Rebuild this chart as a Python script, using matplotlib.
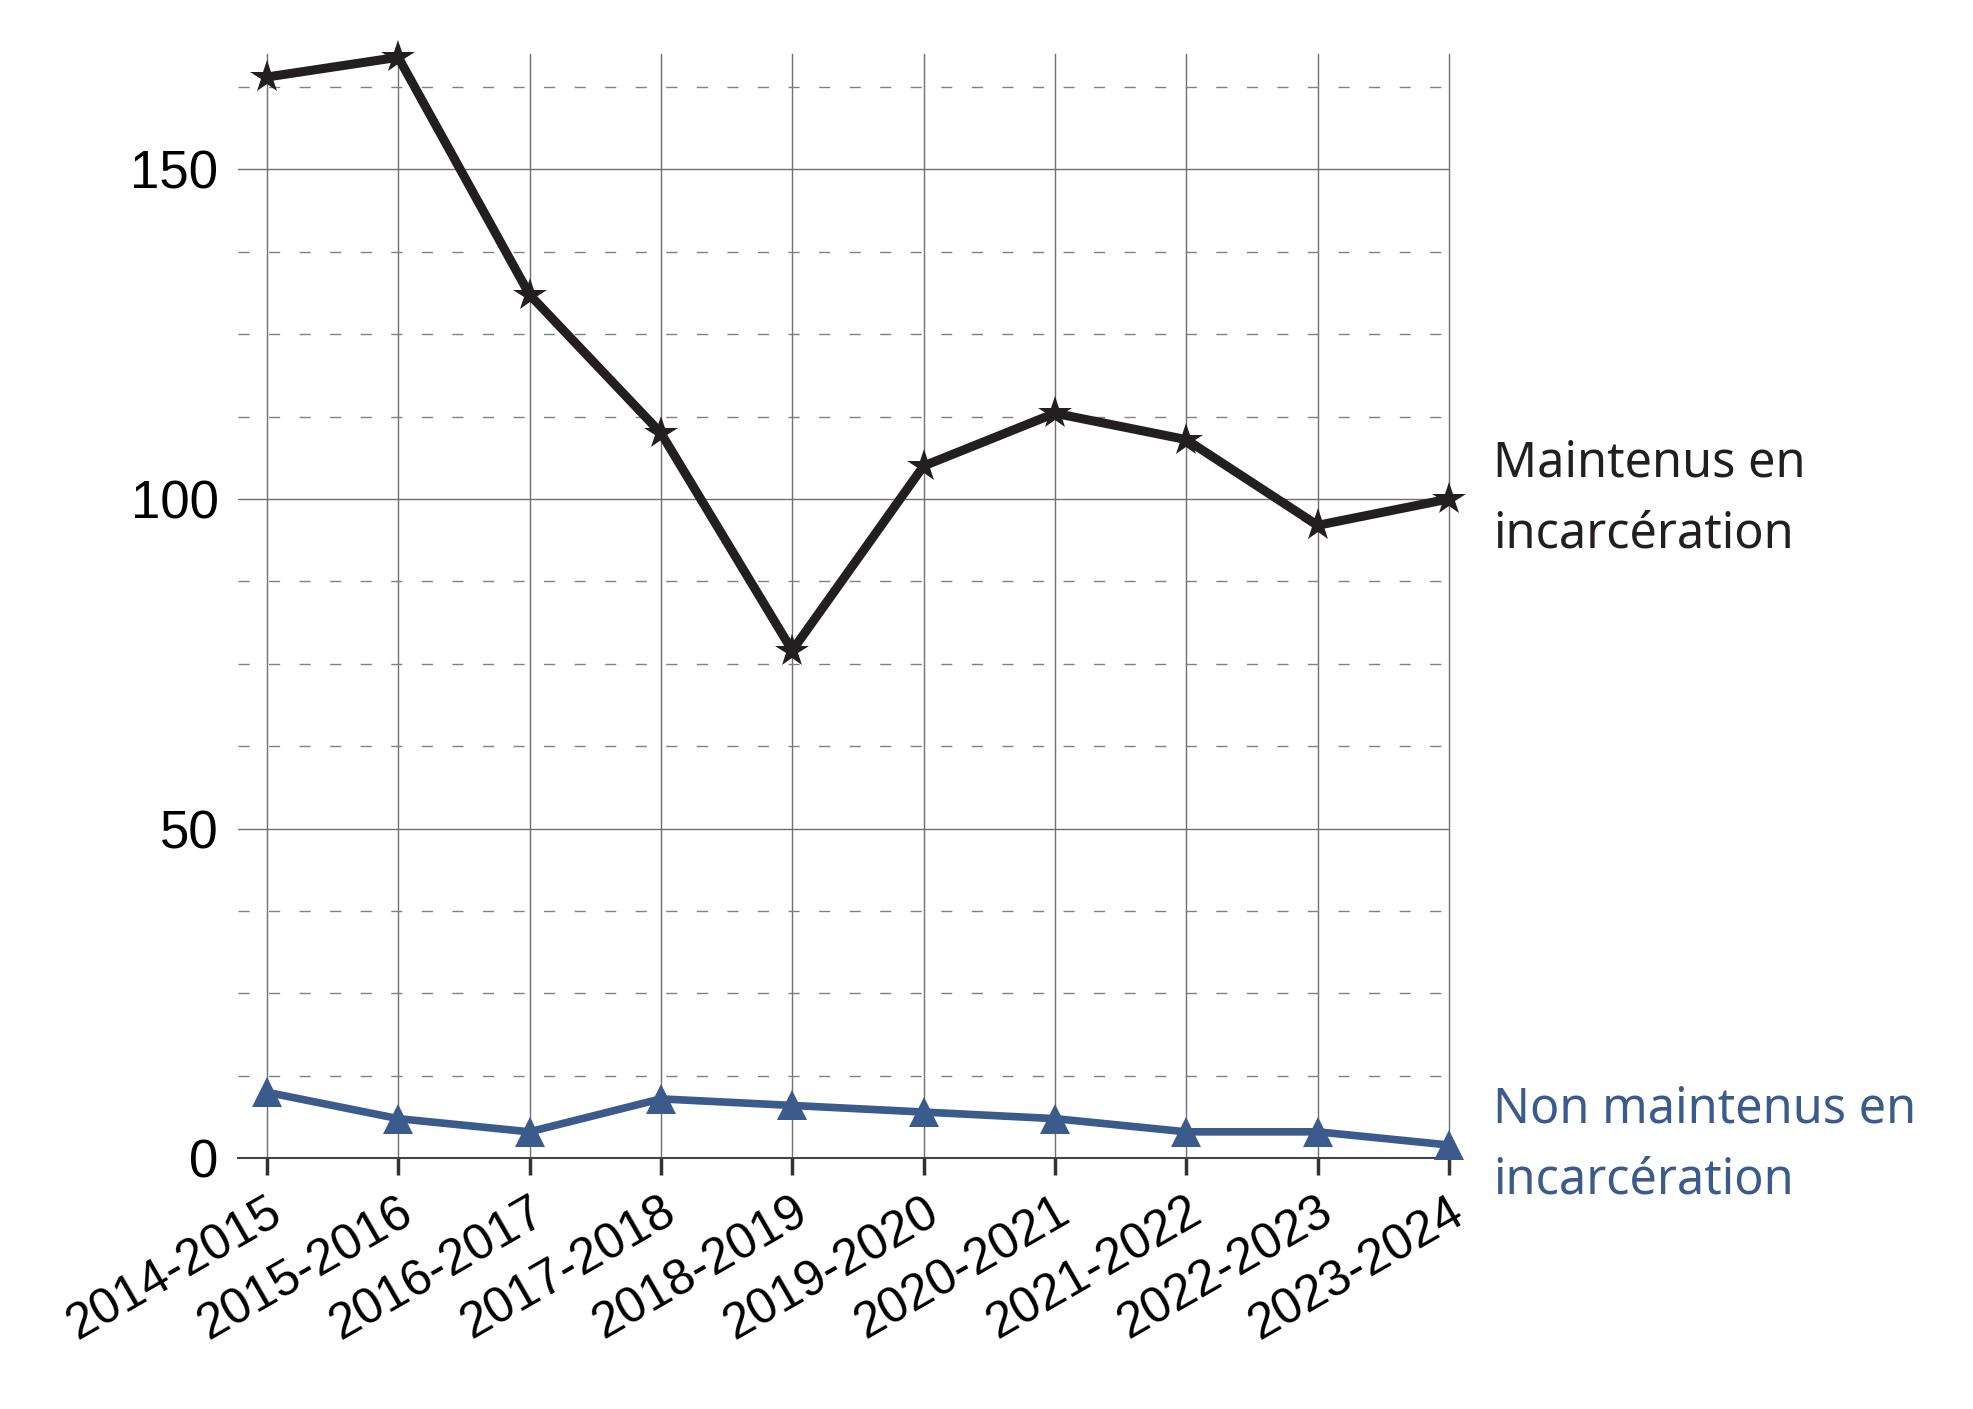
import numpy as np
import matplotlib.pyplot as plt
from matplotlib.ticker import MultipleLocator

years = ['2014-2015', '2015-2016', '2016-2017', '2017-2018', '2018-2019',
         '2019-2020', '2020-2021', '2021-2022', '2022-2023', '2023-2024']
maintenus = [164, 167, 131, 110, 77, 105, 113, 109, 96, 100]
non_maintenus = [10, 6, 4, 9, 8, 7, 6, 4, 4, 2]

dark = '#231f20'
blue = '#3b5b8c'

plt.rcParams['lines.scale_dashes'] = False

fig = plt.figure(figsize=(19.73, 14.09), dpi=100)
ax = fig.add_axes([0.1206, 0.178, 0.7344 - 0.1206, 0.9617 - 0.178])

x = np.arange(len(years))

# gridlines
ax.yaxis.set_major_locator(MultipleLocator(50))
ax.yaxis.set_minor_locator(MultipleLocator(12.5))
ax.grid(axis='y', which='major', color='#707070', linewidth=1.0)
ax.grid(axis='y', which='minor', color='#808080', linewidth=1.0, linestyle=(0, (8, 14)))
ax.grid(axis='x', which='major', color='#707070', linewidth=1.0)
ax.set_axisbelow(True)

ax.plot(x, maintenus, color=dark, linewidth=6.5, marker='*', markersize=25,
        markeredgewidth=0, zorder=3, clip_on=False)
ax.plot(x, non_maintenus, color=blue, linewidth=5.5, marker='^', markersize=22,
        markeredgewidth=0, zorder=3, clip_on=False)

ax.set_xlim(-0.22, 9)
ax.set_ylim(0, 167.5)
ax.set_xticks(x)
ax.set_xticklabels(years, rotation=30, ha='right', rotation_mode='anchor',
                   fontsize=36, family='Liberation Sans')
ax.set_yticks([0, 50, 100, 150])
ax.set_yticklabels(['0', '50', '100', '150'], fontsize=38, family='Liberation Sans')

for s in ['left', 'right', 'top']:
    ax.spines[s].set_visible(False)
ax.spines['bottom'].set_color('#444444')
ax.spines['bottom'].set_linewidth(1.5)
ax.tick_params(axis='x', which='major', length=12, width=2.5, color='#333333', pad=10)
ax.tick_params(axis='y', which='both', length=0, pad=14)

# keep the last vertical gridline fully visible
for gl in ax.get_xgridlines():
    gl.set_clip_on(False)

ax.annotate('Maintenus en\nincarcération', xy=(x[-1], maintenus[-1]),
            xytext=(32, 0), textcoords='offset points', va='center', ha='left',
            fontsize=35, color=dark, family='Noto Sans', linespacing=1.55,
            annotation_clip=False)
ax.annotate('Non maintenus en\nincarcération', xy=(x[-1], non_maintenus[-1]),
            xytext=(32, 0), textcoords='offset points', va='center', ha='left',
            fontsize=35, color=blue, family='Noto Sans', linespacing=1.55,
            annotation_clip=False)

fig.savefig('out.png', dpi=100)
